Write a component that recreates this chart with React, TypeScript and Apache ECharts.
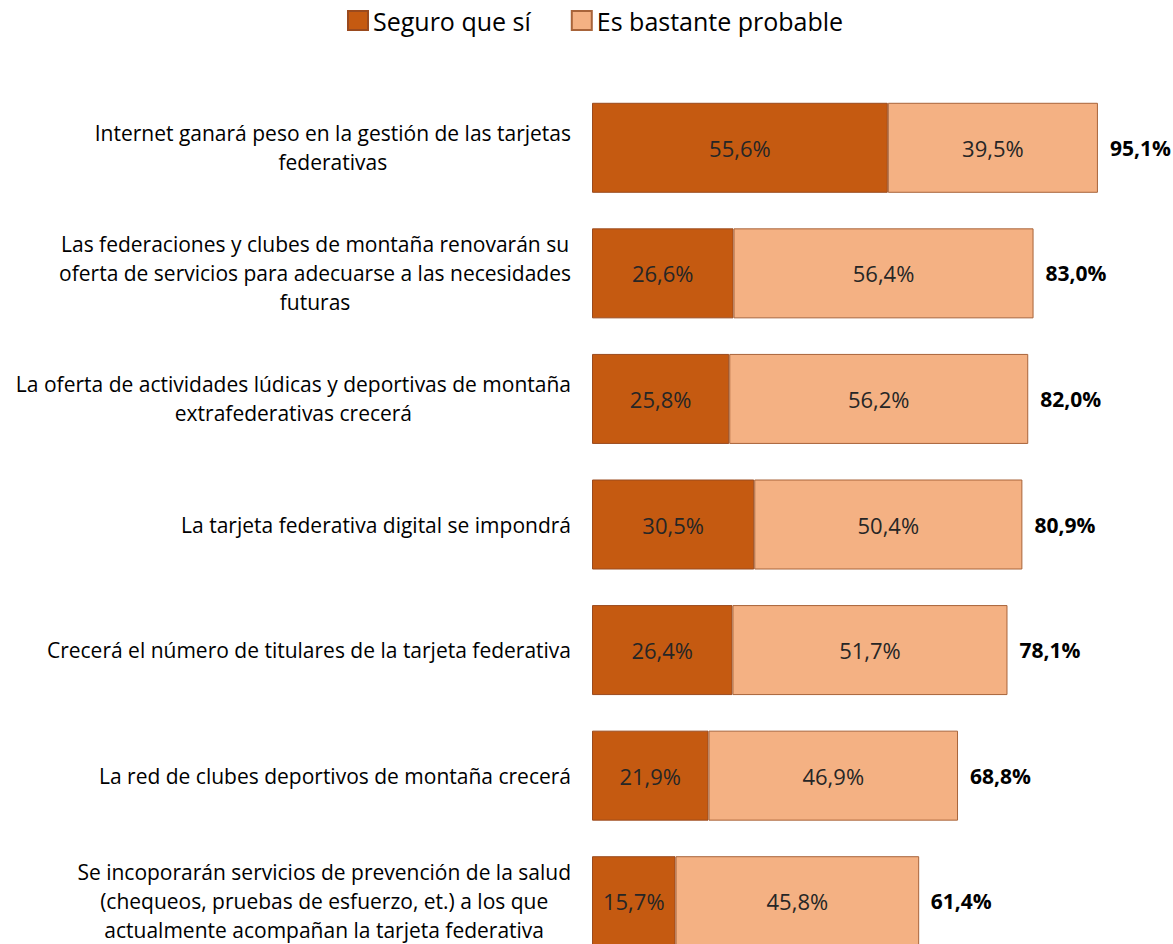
import React, { useEffect, useRef } from "react";
import * as echarts from "echarts";

const categories: string[] = [
  "Internet ganará peso en la gestión de las tarjetas\nfederativas",
  "Las federaciones y clubes de montaña renovarán su\noferta de servicios para adecuarse a las necesidades\nfuturas",
  "La oferta de actividades lúdicas y deportivas de montaña\nextrafederativas crecerá",
  "La tarjeta federativa digital se impondrá",
  "Crecerá el número de titulares de la tarjeta federativa",
  "La red de clubes deportivos de montaña crecerá",
  "Se incoporarán servicios de prevención de la salud\n(chequeos, pruebas de esfuerzo, et.) a los que\nactualmente acompañan la tarjeta federativa",
];
const seguro: number[] = [55.6, 26.6, 25.8, 30.5, 26.4, 21.9, 15.7];
const probable: number[] = [39.5, 56.4, 56.2, 50.4, 51.7, 46.9, 45.8];
const totals: number[] = [95.1, 83.0, 82.0, 80.9, 78.1, 68.8, 61.4];

const FONT = "'Open Sans', sans-serif";
const fmt = (v: number) => v.toFixed(1).replace(".", ",") + "%";

export default function App() {
  const ref = useRef<HTMLDivElement>(null);
  useEffect(() => {
    if (!ref.current) return;
    const chart = echarts.init(ref.current, null, { renderer: "svg" });
    const common = {
      type: "bar",
      barWidth: 90,
      barGap: "-100%",
    };
    chart.setOption({
      animation: false,
      textStyle: { fontFamily: FONT },
      legend: {
        top: 3,
        left: 342,
        data: ["Seguro que sí", "Es bastante probable"],
        itemWidth: 20,
        itemHeight: 19,
        itemGap: 40,
        icon: "rect",
        textStyle: { fontSize: 25, color: "#000", fontFamily: FONT },
      },
      grid: { left: 592, right: 49, top: 85, bottom: 0, containLabel: false },
      xAxis: { type: "value", min: 0, max: 100, show: false },
      yAxis: {
        type: "category",
        inverse: true,
        data: categories,
        axisLine: { show: false },
        axisTick: { show: false },
        axisLabel: {
          margin: 21,
          fontSize: 21,
          color: "#000",
          lineHeight: 29,
          fontFamily: FONT,
          formatter: (v: string) =>
            v.split("\n").map((l) => `{c|${l}}`).join("\n"),
          rich: {
            c: { align: "center", fontSize: 21, lineHeight: 29, color: "#000", fontFamily: FONT },
          },
        },
      },
      series: [
        {
          ...common,
          name: "Seguro que sí",
          stack: "s",
          data: seguro,
          itemStyle: { color: "#C55A11", borderColor: "#9A4A1E", borderWidth: 1 },
          label: { show: true, position: "inside", formatter: (p: any) => fmt(p.value), fontSize: 22, color: "#262626", fontFamily: FONT },
        },
        {
          ...common,
          name: "Es bastante probable",
          stack: "s",
          data: probable,
          itemStyle: { color: "#F4B183", borderColor: "#A8643A", borderWidth: 1 },
          label: { show: true, position: "inside", formatter: (p: any) => fmt(p.value), fontSize: 22, color: "#262626", fontFamily: FONT },
        },
        {
          ...common,
          name: "Total",
          data: totals,
          itemStyle: { color: "rgba(0,0,0,0)" },
          silent: true,
          label: { show: true, position: "right", distance: 12, formatter: (p: any) => fmt(p.value), fontSize: 21, fontWeight: "bold", color: "#000", fontFamily: FONT },
        },
      ],
    });
    return () => chart.dispose();
  }, []);
  return (
    <div style={{ position: "fixed", left: 0, top: 0, width: 1173, height: 944, overflow: "hidden", background: "#fff" }}>
      <div ref={ref} style={{ width: 1173, height: 964 }} />
    </div>
  );
}
